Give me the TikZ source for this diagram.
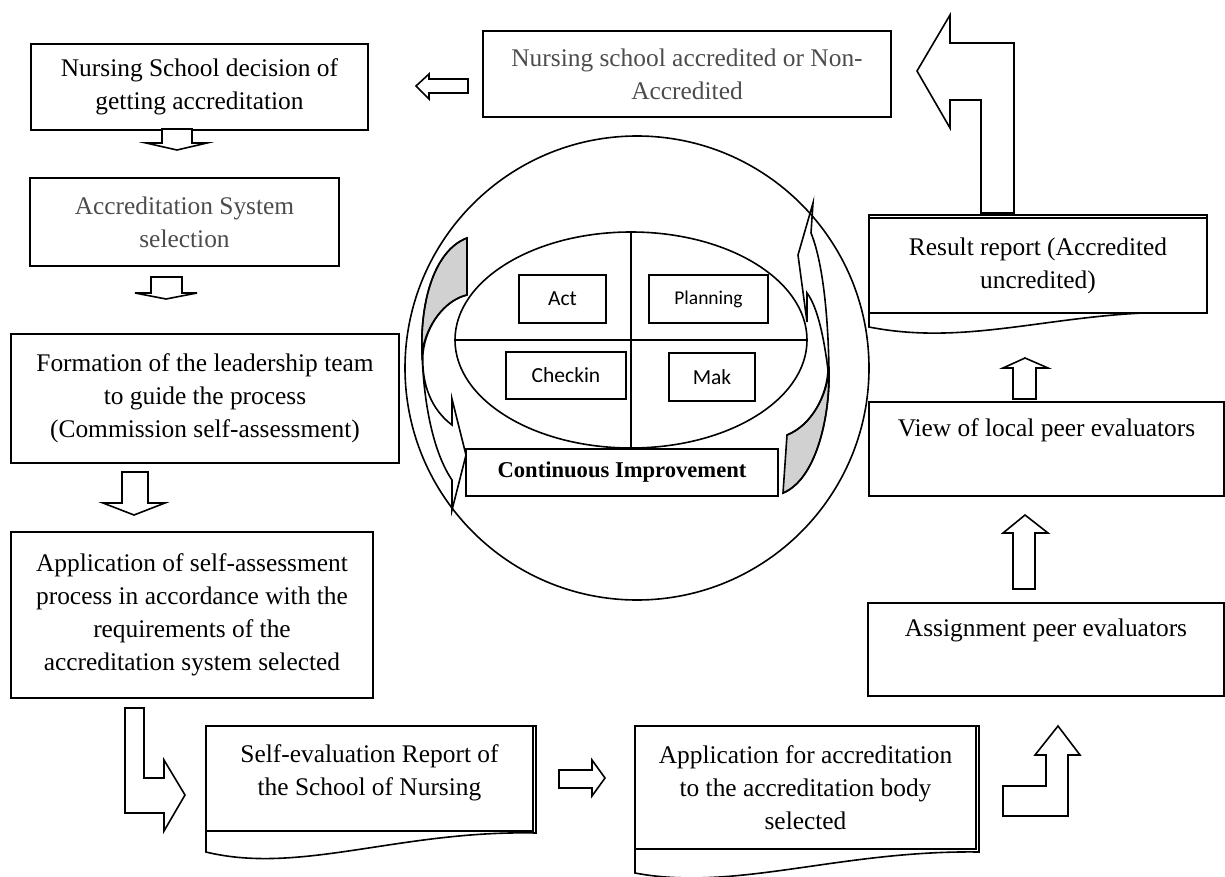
\documentclass[tikz,border=0pt]{standalone}
\usepackage{fontspec}
\setmainfont{Liberation Serif}
\newfontfamily\pdcafont{Carlito}
\usetikzlibrary{shapes.geometric}

\tikzset{
  stage/.style={draw, align=center, inner sep=0pt, font=\fontsize{12.7}{16.5}\selectfont},
  dimtext/.style={text=black!70},
  phase/.style={draw, inner sep=0pt, font=\pdcafont\fontsize{10.75}{13}\selectfont},
  hollow/.style={draw, fill=white},
  backside/.style={draw, fill=black!18}
}

\begin{document}
\begin{tikzpicture}[x=0.5pt, y=-0.5pt, line width=0.8pt]
  \useasboundingbox (0,0) rectangle (1225,877);

  % document outlines behind the report boxes
  \draw (206,726) -- (536,726) -- (536,833) .. controls (400,830) and (300,875) .. (206,852) -- cycle;
  \draw (635,726) -- (979,726) -- (979,852) .. controls (840,850) and (735,892) .. (635,873) -- cycle;
  \draw (869,215) -- (1207,215) -- (1207,313) -- (1143,313) .. controls (1040,318) and (960,345) .. (869,327) -- cycle;

  \begin{scope}[every node/.style={stage}]
    \node (decide) [minimum width=168.5pt, minimum height=43pt] at (199.5,87) {Nursing School decision of\\getting accreditation};
    \node (outcome) [dimtext, minimum width=204pt, minimum height=43pt] at (687,74) {Nursing school accredited or Non-\\Accredited};
    \node (system) [dimtext, minimum width=154.5pt, minimum height=44pt] at (184.5,222) {Accreditation System\\selection};
    \node (team) [minimum width=194pt, minimum height=64.5pt] at (205,398.5) {Formation of the leadership team\\to guide the process\\(Commission self-assessment)};
    \node (apply) [minimum width=181pt, minimum height=83pt] at (192,615) {Application of self-assessment\\process in accordance with the\\requirements of the\\accreditation system selected};
    \node (selfrep) [minimum width=163.5pt, minimum height=52.5pt] at (369.5,778.5) {Self-evaluation Report of\\the School of Nursing\\[-13pt]\strut};
    \node (body) [minimum width=170.5pt, minimum height=61.5pt] at (805.5,787.5) {Application for accreditation\\to the accreditation body\\selected};
    \node (assign) [minimum width=178pt, minimum height=46.5pt] at (1046,649.5) {Assignment peer evaluators\\\strut};
    \node (view) [minimum width=177.5pt, minimum height=47pt] at (1046.5,449) {View of local peer evaluators\\\strut};
    \node (result) [minimum width=169pt, minimum height=47.5pt] at (1038,265.5) {Result report (Accredited\\uncredited)};
  \end{scope}

  % block arrows
  \draw[hollow] (468,79) -- (429,79) -- (429,74) -- (416,86) -- (429,99) -- (429,93) -- (468,93) -- cycle;
  \draw[hollow] (162,129) -- (192,129) -- (192,143) -- (207,143) -- (177,150) -- (146,143) -- (162,143) -- cycle;
  \draw[hollow] (151,277) -- (182,277) -- (182,293) -- (197,293) -- (166,299) -- (135,293) -- (151,293) -- cycle;
  \draw[hollow] (122,472) -- (148,472) -- (148,503) -- (165,503) -- (134,515) -- (103,503) -- (122,503) -- cycle;
  \draw[hollow] (125,708) -- (144,708) -- (144,778) -- (164,778) -- (164,760) -- (185,795) -- (164,831) -- (164,813) -- (125,813) -- cycle;
  \draw[hollow] (559,770) -- (592,770) -- (592,760) -- (605,778) -- (592,796) -- (592,788) -- (559,788) -- cycle;
  \draw[hollow] (1003,786) -- (1046,786) -- (1046,755) -- (1035,755) -- (1058,726) -- (1080,755) -- (1068,755) -- (1068,816) -- (1003,816) -- cycle;
  \draw[hollow] (1013,589) -- (1013,533) -- (1003,533) -- (1025,515) -- (1048,533) -- (1035,533) -- (1035,589) -- cycle;
  \draw[hollow] (1013,399) -- (1013,368) -- (1003,368) -- (1025,358) -- (1048,368) -- (1036,368) -- (1036,399) -- cycle;
  \draw[hollow] (981,213) -- (1014,213) -- (1014,43) -- (950,43) -- (950,15) -- (917,71) -- (950,128) -- (950,100) -- (981,100) -- cycle;

  % improvement cycle
  \node[draw, circle, minimum size=232pt, inner sep=0pt] (ring) at (637,368) {};

  \draw[backside] (467,238) .. controls (435,250) and (420,300) .. (422,353) .. controls (426,325) and (445,300) .. (467,295) -- cycle;
  \draw (467,238) .. controls (435,250) and (420,300) .. (422,353) .. controls (424,410) and (435,455) .. (452,480) -- (452,510) -- (466,455) -- (452,399) -- (452,425) .. controls (432,410) and (421,385) .. (423,353) .. controls (426,325) and (445,300) .. (467,295);

  \draw[backside] (783,493) .. controls (815,480) and (830,420) .. (829,370) .. controls (827,395) and (812,425) .. (787,435) -- cycle;
  \draw (783,493) .. controls (815,480) and (830,420) .. (829,370) .. controls (828,310) and (822,260) .. (811,233) -- (813,203) -- (798,255) -- (807,322) -- (807,293) .. controls (816,305) and (823,330) .. (828,370) .. controls (827,395) and (812,425) .. (787,435);

  \node[draw, ellipse, minimum width=176pt, minimum height=108pt, inner sep=0pt] (pdca) at (631,340) {};
  \draw (pdca.west) -- (pdca.east);
  \draw (pdca.north) -- (pdca.south);

  \begin{scope}[every node/.style={phase}]
    \node (act) [minimum width=43.5pt, minimum height=24pt] at (562.5,299) {Act};
    \node (plan) [minimum width=59.5pt, minimum height=24pt, font=\pdcafont\fontsize{9.75}{12}\selectfont] at (708.5,299) {Planning};
    \node (check) [minimum width=60pt, minimum height=23.5pt] at (566,375.5) {Checkin};
    \node (make) [minimum width=43pt, minimum height=24pt] at (712,377) {Mak};
  \end{scope}
  \node (improve) [draw, inner sep=0pt, minimum width=156pt, minimum height=23.5pt, font=\bfseries\fontsize{11.3}{13}\selectfont] at (622,472.5) {Continuous Improvement};
\end{tikzpicture}
\end{document}
